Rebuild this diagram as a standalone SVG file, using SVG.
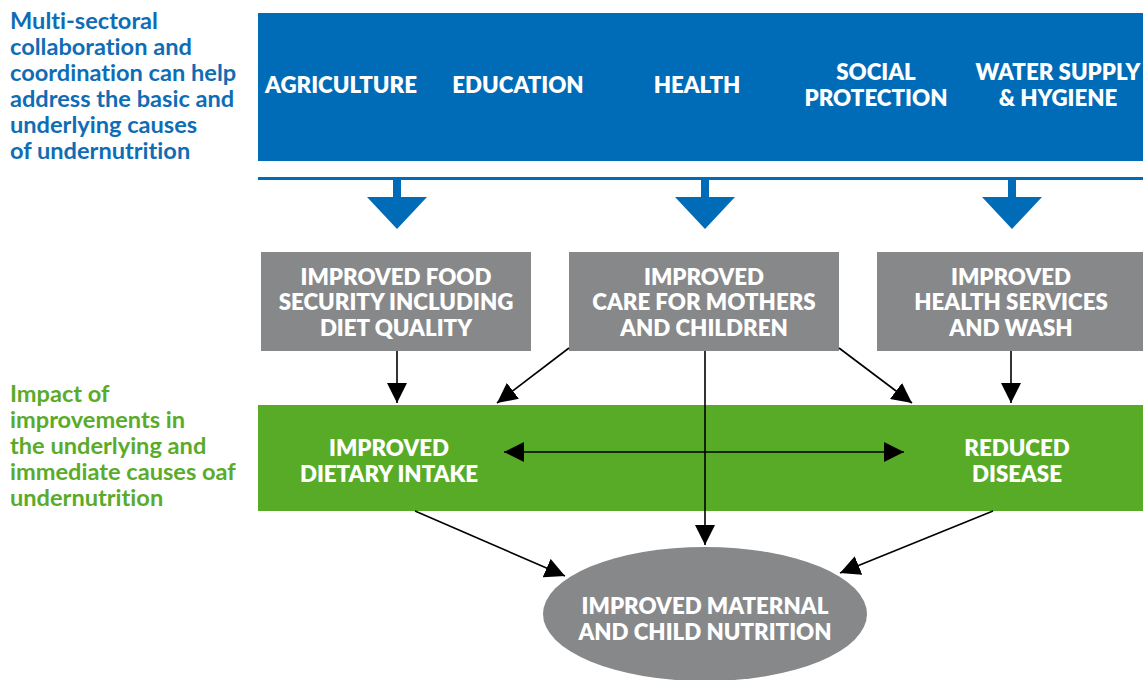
<svg xmlns="http://www.w3.org/2000/svg" width="1143" height="680" viewBox="0 0 1143 680">
<style>
.side{font-family:Lato,"Open Sans",sans-serif;font-weight:700;font-size:23.6px;font-variant-ligatures:none}
.blue{fill:#0F6DB5}
.green{fill:#5AAB2A}
.lbl{font-family:Lato,"Open Sans",sans-serif;font-weight:800;font-size:22.3px;fill:#fff;text-anchor:middle;font-variant-ligatures:none}
.ln{stroke:#000;stroke-width:1.6;fill:none}
</style>
<defs>
<marker id="ah2" viewBox="0 0 20 20" refX="20" refY="10" markerWidth="20" markerHeight="20" markerUnits="userSpaceOnUse" orient="auto-start-reverse">
<path d="M0,0 L20,10 L0,20 Z" fill="#000"/>
</marker>
</defs>
<rect width="1143" height="680" fill="#fff"/>
<g id="side-text-1" class="side blue">
<text x="10" y="29">Multi-sectoral</text>
<text x="10" y="55">collaboration and</text>
<text x="10" y="81">coordination can help</text>
<text x="10" y="107">address the basic and</text>
<text x="10" y="133">underlying causes</text>
<text x="10" y="159">of undernutrition</text>
</g>
<g id="side-text-2" class="side green">
<text x="10" y="402">Impact of</text>
<text x="10" y="428">improvements in</text>
<text x="10" y="454">the underlying and</text>
<text x="10" y="480">immediate causes oaf</text>
<text x="10" y="506">undernutrition</text>
</g>
<g id="sectors">
<rect x="258" y="13" width="885" height="148" fill="#006BB6"/>
<text class="lbl" x="341" y="93">AGRICULTURE</text>
<text class="lbl" x="518" y="93">EDUCATION</text>
<text class="lbl" x="697" y="93">HEALTH</text>
<text class="lbl" x="876" y="80">SOCIAL</text>
<text class="lbl" x="876" y="106">PROTECTION</text>
<text class="lbl" x="1058" y="80">WATER SUPPLY</text>
<text class="lbl" x="1058" y="106">&amp; HYGIENE</text>
</g>
<g id="blue-arrows" fill="#006BB6">
<rect x="258" y="177" width="885" height="3"/>
<rect x="393" y="180" width="8" height="17"/>
<path d="M367,197 L427,197 L397,229 Z"/>
<rect x="701" y="180" width="8" height="17"/>
<path d="M675,197 L735,197 L705,229 Z"/>
<rect x="1008" y="180" width="8" height="17"/>
<path d="M982,197 L1042,197 L1012,229 Z"/>
</g>
<g id="food-security">
<rect x="261" y="252" width="270" height="99" fill="#87888A"/>
<text class="lbl" x="396" y="285">IMPROVED FOOD</text>
<text class="lbl" x="396" y="310">SECURITY INCLUDING</text>
<text class="lbl" x="396" y="336">DIET QUALITY</text>
</g>
<g id="care">
<rect x="569" y="252" width="270" height="99" fill="#87888A"/>
<text class="lbl" x="704" y="285">IMPROVED</text>
<text class="lbl" x="704" y="310">CARE FOR MOTHERS</text>
<text class="lbl" x="704" y="336">AND CHILDREN</text>
</g>
<g id="health-services">
<rect x="877" y="252" width="266" height="99" fill="#87888A"/>
<text class="lbl" x="1011" y="285">IMPROVED</text>
<text class="lbl" x="1011" y="310">HEALTH SERVICES</text>
<text class="lbl" x="1011" y="336">AND WASH</text>
</g>
<g id="impacts">
<rect x="258" y="405" width="885" height="106" fill="#58AB27"/>
</g>
<g id="dietary-intake">
<text class="lbl" x="389" y="456">IMPROVED</text>
<text class="lbl" x="389" y="482">DIETARY INTAKE</text>
</g>
<g id="reduced-disease">
<text class="lbl" x="1017" y="456">REDUCED</text>
<text class="lbl" x="1017" y="482">DISEASE</text>
</g>
<g id="nutrition">
<ellipse cx="705" cy="614" rx="162" ry="67" fill="#87888A"/>
<text class="lbl" x="705" y="614">IMPROVED MATERNAL</text>
<text class="lbl" x="705" y="640">AND CHILD NUTRITION</text>
</g>
<g id="connectors">
<line class="ln" x1="397" y1="351" x2="397" y2="403" marker-end="url(#ah2)"/>
<line class="ln" x1="569" y1="348" x2="497" y2="403" marker-end="url(#ah2)"/>
<line class="ln" x1="839" y1="348" x2="912" y2="403" marker-end="url(#ah2)"/>
<line class="ln" x1="1011" y1="351" x2="1011" y2="403" marker-end="url(#ah2)"/>
<line class="ln" x1="705" y1="351" x2="705" y2="545" marker-end="url(#ah2)"/>
<line class="ln" x1="504" y1="452" x2="904" y2="452" marker-start="url(#ah2)" marker-end="url(#ah2)"/>
<line class="ln" x1="415" y1="511" x2="565" y2="576" marker-end="url(#ah2)"/>
<line class="ln" x1="993" y1="511" x2="840" y2="573" marker-end="url(#ah2)"/>
</g>
</svg>
